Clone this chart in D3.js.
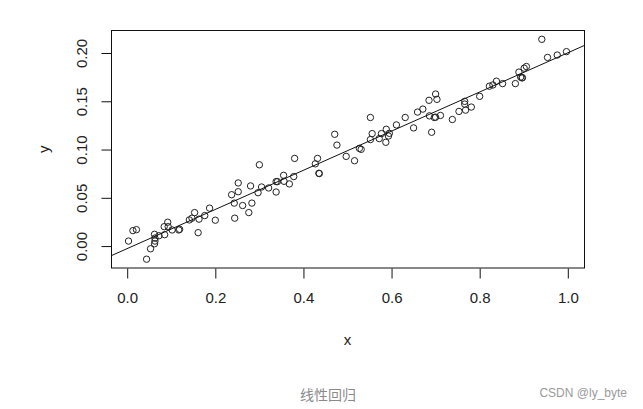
<!DOCTYPE html>
<html>
<head>
<meta charset="utf-8">
<script src="https://cdn.jsdelivr.net/npm/d3@7"></script>
<style>
    body { margin: 0; background: #fff; }
    text { font-family: "Liberation Sans", Arial, sans-serif; }
</style>
</head>
<body>
<div id="charts"></div>
<script>
// Sample points.
let x_values = [
    0.003, 0.013, 0.021, 0.044, 0.053, 0.062, 0.063, 0.063, 0.062, 0.072,
    0.085, 0.084, 0.092, 0.093, 0.102, 0.117, 0.119, 0.141, 0.147, 0.153,
    0.161, 0.163, 0.176, 0.187, 0.200, 0.237, 0.243, 0.244, 0.252, 0.252,
    0.262, 0.276, 0.280, 0.283, 0.297, 0.300, 0.305, 0.321, 0.338, 0.338,
    0.341, 0.355, 0.356, 0.368, 0.378, 0.380, 0.427, 0.432, 0.435, 0.436,
    0.471, 0.476, 0.497, 0.516, 0.527, 0.531, 0.552, 0.556, 0.552, 0.572,
    0.577, 0.588, 0.587, 0.593, 0.595, 0.611, 0.631, 0.650, 0.659, 0.671,
    0.685, 0.700, 0.703, 0.686, 0.697, 0.700, 0.711, 0.691, 0.738, 0.753,
    0.766, 0.766, 0.768, 0.781, 0.800, 0.822, 0.830, 0.838, 0.852, 0.881,
    0.889, 0.893, 0.896, 0.897, 0.901, 0.906, 0.941, 0.954, 0.976, 0.997
];
let y_values = [
    0.0052, 0.0160, 0.0170, -0.0136, -0.0028, 0.0024, 0.0052, 0.0083, 0.0122, 0.0107,
    0.0118, 0.0201, 0.0247, 0.0201, 0.0167, 0.0167, 0.0174, 0.0271, 0.0289, 0.0347,
    0.0139, 0.0279, 0.0316, 0.0393, 0.0268, 0.0532, 0.0445, 0.0289, 0.0654, 0.0563,
    0.0420, 0.0347, 0.0623, 0.0445, 0.0553, 0.0842, 0.0612, 0.0602, 0.0560, 0.0668,
    0.0668, 0.0733, 0.0671, 0.0644, 0.0720, 0.0908, 0.0852, 0.0908, 0.0754, 0.0751,
    0.1158, 0.1046, 0.0929, 0.0884, 0.1012, 0.1002, 0.1332, 0.1165, 0.1103, 0.1113,
    0.1165, 0.1210, 0.1075, 0.1140, 0.1168, 0.1255, 0.1332, 0.1224, 0.1388, 0.1419,
    0.1510, 0.1575, 0.1520, 0.1349, 0.1332, 0.1335, 0.1353, 0.1179, 0.1311, 0.1395,
    0.1499, 0.1471, 0.1408, 0.1440, 0.1551, 0.1656, 0.1669, 0.1708, 0.1683, 0.1683,
    0.1802, 0.1750, 0.1742, 0.1745, 0.1843, 0.1860, 0.2142, 0.1954, 0.1979, 0.2014
];

// Fitted line y = a + b x.
let fit_intercept = -0.0026;
let fit_slope = 0.2028;

let x_ticks = [0.0, 0.2, 0.4, 0.6, 0.8, 1.0];
let y_ticks = [0.00, 0.05, 0.10, 0.15, 0.20];

let caption = "线性回归";
let watermark = "CSDN @ly_byte";

let svg_width = 643, svg_height = 409;
let plot = { left: 111, right: 584, top: 30.5, bottom: 268 };

var svg = d3.select("#charts")
    .append("svg")
        .attr("width", svg_width)
        .attr("height", svg_height);

svg.append("rect")
    .attr("width", svg_width)
    .attr("height", svg_height)
    .attr("fill", "#fff");

// Plot region limits (R style, range padded by 4%).
let x_min = d3.min(x_values), x_max = d3.max(x_values);
let y_min = d3.min(y_values), y_max = d3.max(y_values);
let x_pad = (x_max - x_min) * 0.04, y_pad = (y_max - y_min) * 0.04;

var x_scale = d3.scaleLinear()
    .domain([x_min - x_pad, x_max + x_pad])
    .range([plot.left, plot.right]);
var y_scale = d3.scaleLinear()
    .domain([y_min - y_pad, y_max + y_pad])
    .range([plot.bottom, plot.top]);

// Clip for the fitted line.
svg.append("clipPath")
    .attr("id", "plot_clip")
    .append("rect")
        .attr("x", plot.left)
        .attr("y", plot.top)
        .attr("width", plot.right - plot.left)
        .attr("height", plot.bottom - plot.top);

// Draw the points.
svg.append("g")
    .selectAll("circle")
    .data(d3.zip(x_values, y_values))
    .enter()
    .append("circle")
        .attr("cx", d => x_scale(d[0]))
        .attr("cy", d => y_scale(d[1]))
        .attr("r", 3.2)
        .attr("fill", "none")
        .attr("stroke", "#222")
        .attr("stroke-width", 1);

// Draw the regression line across the whole region.
let line_x = x_scale.domain();
svg.append("line")
    .attr("clip-path", "url(#plot_clip)")
    .attr("x1", x_scale(line_x[0]))
    .attr("y1", y_scale(fit_intercept + fit_slope * line_x[0]))
    .attr("x2", x_scale(line_x[1]))
    .attr("y2", y_scale(fit_intercept + fit_slope * line_x[1]))
    .attr("stroke", "#111")
    .attr("stroke-width", 1);

// Box around the plot.
svg.append("rect")
    .attr("x", plot.left + 0.5)
    .attr("y", plot.top)
    .attr("width", plot.right - plot.left)
    .attr("height", plot.bottom - plot.top)
    .attr("fill", "none")
    .attr("stroke", "#111")
    .attr("stroke-width", 1);

// Add the X axis.
let x_axis = svg.append("g")
    .attr("transform", "translate(0," + (plot.bottom + 0.5) + ")")
    .call(d3.axisBottom(x_scale)
        .tickValues(x_ticks)
        .tickSize(10)
        .tickPadding(14)
        .tickFormat(d3.format(".1f")));
x_axis.select(".domain").remove();
x_axis.selectAll("line").attr("stroke", "#111");
x_axis.selectAll("text")
    .attr("fill", "#222")
    .style("font-size", "15px")
    .style("font-family", "'Liberation Sans', Arial, sans-serif");

// Add the Y axis, labels turned like R's default.
let y_axis = svg.append("g")
    .attr("transform", "translate(" + (plot.left + 0.5) + ",0)")
    .call(d3.axisLeft(y_scale)
        .tickValues(y_ticks)
        .tickSize(10)
        .tickFormat(d3.format(".2f")));
y_axis.select(".domain").remove();
y_axis.selectAll("line").attr("stroke", "#111");
y_axis.selectAll("text")
    .attr("transform", "rotate(-90)")
    .attr("x", 0)
    .attr("y", -24.5)
    .attr("dy", 0)
    .attr("fill", "#222")
    .style("text-anchor", "middle")
    .style("font-size", "15px")
    .style("font-family", "'Liberation Sans', Arial, sans-serif");

// Axis titles.
svg.append("text")
    .attr("x", (plot.left + plot.right) / 2)
    .attr("y", 345)
    .style("text-anchor", "middle")
    .style("font-size", "15px")
    .attr("fill", "#222")
    .text("x");

svg.append("text")
    .attr("transform", "translate(49," + ((plot.top + plot.bottom) / 2) + ") rotate(-90)")
    .style("text-anchor", "middle")
    .style("font-size", "15px")
    .attr("fill", "#222")
    .text("y");

// Caption and watermark.
svg.append("text")
    .attr("x", 328)
    .attr("y", 400)
    .style("text-anchor", "middle")
    .style("font-size", "14px")
    .style("font-family", "'Noto Sans CJK SC', sans-serif")
    .attr("fill", "#8a8a8a")
    .text(caption);

svg.append("text")
    .attr("x", 627)
    .attr("y", 397)
    .style("text-anchor", "end")
    .style("font-size", "12px")
    .attr("fill", "#9a9a9a")
    .text(watermark);
</script>
</body>
</html>
